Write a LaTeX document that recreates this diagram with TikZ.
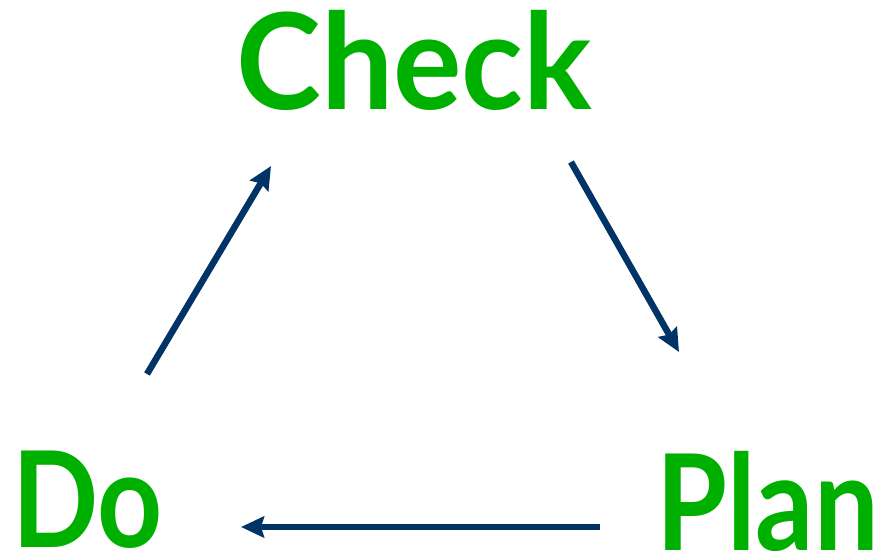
\documentclass[tikz,border=0pt]{standalone}
\usepackage{fontspec}
\setmainfont{Lato}
\definecolor{pdgreen}{RGB}{0,176,0}
\definecolor{pdnavy}{RGB}{0,51,102}
\usetikzlibrary{arrows.meta,positioning}

\begin{document}
\begin{tikzpicture}[x=0.02cm, y=-0.02cm,
  stage/.style={anchor=base west, inner sep=0pt, text=pdgreen, transform shape, font=\fontsize{76}{80}\selectfont\bfseries},
  cycle/.style={-{Stealth[length=0.46cm, width=0.42cm, inset=0.06cm]}, line width=0.13cm, pdnavy}]
  \useasboundingbox (0,0) rectangle (889,557);

  % Stages
  \node[stage, xscale=0.96] (check) at (236,110) {Check};
  \node[stage, xscale=0.86] (plan) at (656,550) {Plan};
  \node[stage, xscale=0.85] (do) at (12,547) {Do};

  % Cycle arrows
  \draw[cycle] ([shift={(135,-173)}]do.base west) -- ([shift={(35,56)}]check.base west);
  \draw[cycle] ([shift={(335,52)}]check.base west) -- ([shift={(23,-198)}]plan.base west);
  \draw[cycle] ([shift={(-56,-23)}]plan.base west) -- ([shift={(229,-20)}]do.base west);
\end{tikzpicture}
\end{document}
